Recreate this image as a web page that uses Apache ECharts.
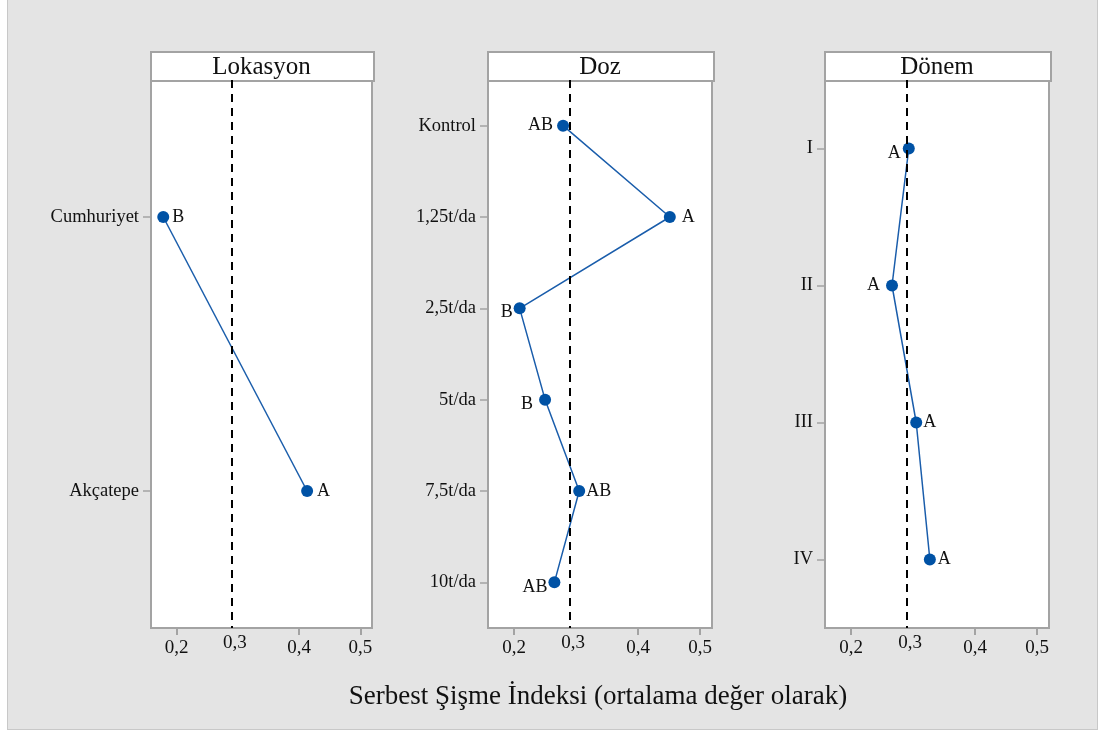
<!DOCTYPE html>
<html>
<head>
<meta charset="utf-8">
<script src="https://cdn.jsdelivr.net/npm/echarts@6/dist/echarts.min.js"></script>
<style>
  body { margin: 0; background: #fff; }
  #bg { position: absolute; left: 7px; top: -1px; width: 1089px; height: 729px; background: #e4e4e4; border: 1px solid #c8c8c8; }
  #chart { position: absolute; left: 0; top: 0; width: 1103px; height: 731px; }
</style>
</head>
<body>
<div id="bg"></div>
<div id="chart"></div>
<script>
// veriler
const LOK_CATS = ['Cumhuriyet', 'Akçatepe'];
const LOK_VALUES = [0.178, 0.413];
const LOK_GROUPS = ['B', 'A'];

const DOZ_CATS = ['Kontrol', '1,25t/da', '2,5t/da', '5t/da', '7,5t/da', '10t/da'];
const DOZ_VALUES = [0.279, 0.451, 0.209, 0.250, 0.305, 0.265];
const DOZ_GROUPS = ['AB', 'A', 'B', 'B', 'AB', 'AB'];

const DONEM_CATS = ['I', 'II', 'III', 'IV'];
const DONEM_VALUES = [0.293, 0.266, 0.305, 0.327];
const DONEM_GROUPS = ['A', 'A', 'A', 'A'];

const GRAND_MEAN = 0.295;
const TICK_VALUES = [0.2, 0.3, 0.4, 0.5];
const PANEL_TITLES = ['Lokasyon', 'Doz', 'Dönem'];
const AXIS_TITLE = 'Serbest Şişme İndeksi (ortalama değer olarak)';

// yerleşim / stil
const FONT = '"Liberation Serif", "Times New Roman", serif';
const BLUE = '#0052a5';
const PANELS = [
  { left: 151, width: 221 },
  { left: 488, width: 224 },
  { left: 825, width: 224 }
];
const TOP = 80, HEIGHT = 548;
const X_MIN = 0.158, X_MAX = 0.519;
// [konum, mesafe, dikey kayma]
const LABEL_STYLE = [
  [['right', 3, 0], ['right', 4, 0]],
  [['left', 4, 0], ['right', 6, 0], ['left', 1, 4], ['left', 6, 5], ['right', 1, 0], ['left', 1, 5]],
  [['left', 2, 5], ['left', 6, 0], ['right', 1, 0], ['right', 2, 0]]
];

const cats = [LOK_CATS, DOZ_CATS, DONEM_CATS];
const values = [LOK_VALUES, DOZ_VALUES, DONEM_VALUES];
const groups = [LOK_GROUPS, DOZ_GROUPS, DONEM_GROUPS];

const nearMean = v => Math.abs(v - GRAND_MEAN) < 0.02;
const tickVals = TICK_VALUES.filter(v => !nearMean(v));
const labelVals = TICK_VALUES.map(v => nearMean(v) ? GRAND_MEAN : v);

const chart = echarts.init(document.getElementById('chart'));

const grid = [], xAxis = [], yAxis = [], series = [], graphic = [];

PANELS.forEach((p, i) => {
  grid.push({
    left: p.left, top: TOP, width: p.width, height: HEIGHT,
    show: true, backgroundColor: '#fff', borderColor: '#a3a3a3', borderWidth: 2
  });
  xAxis.push({
    type: 'value', gridIndex: i, min: X_MIN, max: X_MAX,
    splitLine: { show: false },
    axisLine: { show: false },
    axisTick: { show: true, customValues: tickVals, length: 7, lineStyle: { color: '#a3a3a3', width: 2 } },
    axisLabel: {
      customValues: labelVals, margin: 6, color: '#111', fontFamily: FONT, fontSize: 19,
      formatter: v => {
        const s = (Math.round(v * 10) / 10).toFixed(1).replace('.', ',');
        return nearMean(v) ? '{r|' + s + '}' : '{n|' + s + '}';
      },
      rich: {
        n: { fontFamily: FONT, fontSize: 19, color: '#111', padding: [5, 0, 0, 0] },
        r: { fontFamily: FONT, fontSize: 19, color: '#111' }
      }
    }
  });
  yAxis.push({
    type: 'category', gridIndex: i, inverse: true, data: cats[i],
    axisLine: { show: false },
    axisTick: { show: true, alignWithLabel: true, length: 8, lineStyle: { color: '#a3a3a3', width: 1.5 } },
    axisLabel: { color: '#111', fontFamily: FONT, fontSize: 18.5, margin: 12 }
  });
  series.push({
    type: 'line', xAxisIndex: i, yAxisIndex: i,
    symbol: 'circle', symbolSize: 12,
    itemStyle: { color: BLUE },
    lineStyle: { color: '#1a5dab', width: 1.5 },
    data: values[i].map((v, j) => ({
      value: [v, cats[i][j]],
      label: {
        show: true, formatter: groups[i][j],
        position: LABEL_STYLE[i][j][0], distance: LABEL_STYLE[i][j][1],
        offset: [0, LABEL_STYLE[i][j][2]],
        color: '#111', fontFamily: FONT, fontSize: 18
      }
    })),
    markLine: {
      silent: true, symbol: 'none', label: { show: false },
      lineStyle: { color: '#000', type: [8, 6], width: 2 },
      data: [{ xAxis: GRAND_MEAN }]
    },
    z: 3
  });
  graphic.push({
    type: 'rect', left: p.left - 1, top: 51,
    shape: { width: p.width + 2, height: 29 },
    style: { fill: '#fff', stroke: '#a3a3a3', lineWidth: 2 }
  });
  graphic.push({
    type: 'text', x: p.left + p.width / 2, y: 67,
    style: { text: PANEL_TITLES[i], fill: '#111', font: '25px ' + FONT, align: 'center', verticalAlign: 'middle' }
  });
});

graphic.push({
  type: 'text', x: 598, y: 697,
  style: { text: AXIS_TITLE, fill: '#111', font: '27px ' + FONT, align: 'center', verticalAlign: 'middle' }
});

chart.setOption({
  backgroundColor: 'transparent',
  animation: false,
  grid: grid,
  xAxis: xAxis,
  yAxis: yAxis,
  series: series,
  graphic: graphic
});
</script>
</body>
</html>
